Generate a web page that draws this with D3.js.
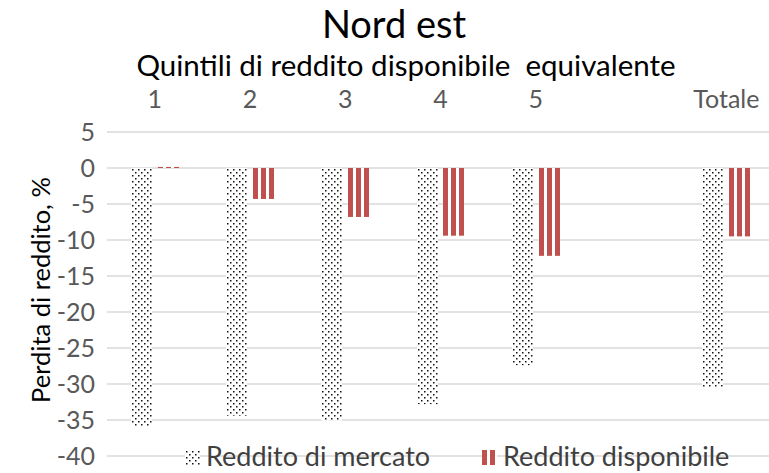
<!DOCTYPE html>
<html>
<head>
<meta charset="utf-8">
<script src="https://cdn.jsdelivr.net/npm/d3@7"></script>
<style>
  body { margin: 0; background: #fff; }
  svg { display: block; font-family: Lato, 'Noto Sans', sans-serif; }
</style>
</head>
<body>
<div id="chart"></div>
<script>
// data
var categories = ['1', '2', '3', '4', '5', ' ', 'Totale']
var series = ['Reddito di mercato', 'Reddito disponibile']
var mercato = [-35.9, -34.4, -35.1, -32.8, -27.4, null, -30.4]
var disponibile = [0.15, -4.3, -6.8, -9.4, -12.2, null, -9.5]
var yTicks = [5, 0, -5, -10, -15, -20, -25, -30, -35, -40]

var width = 769, height = 473
var margin = {top: 132, right: -5, bottom: 17, left: 107}

var svg = d3.select('#chart').append('svg')
            .attr('width', width)
            .attr('height', height)

var defs = svg.append('defs')

// dotted fill, staggered
var dots = defs.append('pattern')
               .attr('id', 'dots')
               .attr('patternUnits', 'userSpaceOnUse')
               .attr('width', 6)
               .attr('height', 6)
dots.append('rect').attr('width', 6).attr('height', 6).attr('fill', '#fff')
dots.append('rect').attr('x', 1).attr('y', 1).attr('width', 1.5).attr('height', 1.5).attr('fill', '#111')
dots.append('rect').attr('x', 4).attr('y', 4).attr('width', 1.5).attr('height', 1.5).attr('fill', '#111')

// vertical red stripes
var stripes = defs.append('pattern')
                  .attr('id', 'stripes')
                  .attr('patternUnits', 'userSpaceOnUse')
                  .attr('width', 8)
                  .attr('height', 8)
stripes.append('rect').attr('width', 8).attr('height', 8).attr('fill', '#fff')
stripes.append('rect').attr('width', 5).attr('height', 8).attr('fill', '#c0504d')

var x = d3.scaleBand()
          .domain(categories)
          .range([margin.left, width - margin.right])

var bw = x.bandwidth()
var x1 = d3.scaleBand()
           .domain(series)
           .range([bw / 2 - 24, bw / 2 + 24])
           .paddingInner(0.222)

var y = d3.scaleLinear()
          .domain([-40, 5])
          .range([height - margin.bottom, margin.top])

// gridlines
svg.append('g')
   .selectAll('line')
   .data(yTicks)
   .enter().append('line')
   .attr('x1', margin.left)
   .attr('x2', width - margin.right)
   .attr('y1', function(d) { return y(d) })
   .attr('y2', function(d) { return y(d) })
   .attr('stroke', '#d9d9d9')
   .attr('stroke-width', 1.5)

// y axis labels
var yAxis = svg.append('g')
               .attr('transform', 'translate(' + (margin.left - 12) + ',0)')
               .call(d3.axisLeft(y).tickValues(yTicks).tickSize(0).tickPadding(0)
                       .tickFormat(function(d) { return String(d) }))
yAxis.select('.domain').remove()
yAxis.selectAll('text')
     .attr('fill', '#595959')
     .style('font-size', '25px')
     .style('font-family', 'Lato, sans-serif')

// category labels on top
var xAxis = svg.append('g')
               .attr('transform', 'translate(0,108)')
               .call(d3.axisTop(x).tickSize(0).tickPadding(0))
xAxis.select('.domain').remove()
xAxis.selectAll('text')
     .attr('fill', '#595959')
     .attr('dy', 0)
     .style('font-size', '25px')
     .style('font-family', 'Lato, sans-serif')

function barData(values, key) {
  return values.map(function(v, i) {
    return {cat: categories[i], key: key, value: v}
  }).filter(function(d) { return d.value !== null })
}

var fills = {'Reddito di mercato': 'url(#dots)', 'Reddito disponibile': 'url(#stripes)'}

// each bar in its own group so the pattern starts at the bar's left edge
var bar = svg.append('g')
   .selectAll('g')
   .data(barData(mercato, series[0]).concat(barData(disponibile, series[1])))
   .enter().append('g')
   .attr('transform', function(d) {
     return 'translate(' + Math.round(x(d.cat) + x1(d.key)) + ',' + y(Math.max(0, d.value)) + ')'
   })
bar.append('rect')
   .attr('width', Math.round(x1.bandwidth()))
   .attr('height', function(d) { return Math.abs(y(d.value) - y(0)) })
   .attr('fill', function(d) { return fills[d.key] })

// titles
svg.append('text')
   .attr('x', 394).attr('y', 38)
   .attr('text-anchor', 'middle')
   .style('font-size', '38px')
   .text('Nord est')

svg.append('text')
   .attr('x', 406).attr('y', 76)
   .attr('text-anchor', 'middle')
   .style('font-size', '29.5px')
   .text('Quintili di reddito disponibile\u00a0 equivalente')

svg.append('text')
   .attr('transform', 'translate(50,290) rotate(-90)')
   .attr('text-anchor', 'middle')
   .style('font-size', '25.5px')
   .text('Perdita di reddito, %')

// legend
var legend = svg.append('g').attr('transform', 'translate(0,457)')
var items = [{key: series[0], x: 185}, {key: series[1], x: 482}]
var li = legend.selectAll('g').data(items).enter().append('g')
               .attr('transform', function(d) { return 'translate(' + d.x + ',-7)' })
li.append('rect')
  .attr('width', 15).attr('height', 15)
  .attr('fill', function(d) { return fills[d.key] })
li.append('text')
  .attr('x', 21).attr('y', 7)
  .attr('dy', '0.35em')
  .attr('fill', '#404040')
  .style('font-size', '27px')
  .text(function(d) { return d.key })
</script>
</body>
</html>
